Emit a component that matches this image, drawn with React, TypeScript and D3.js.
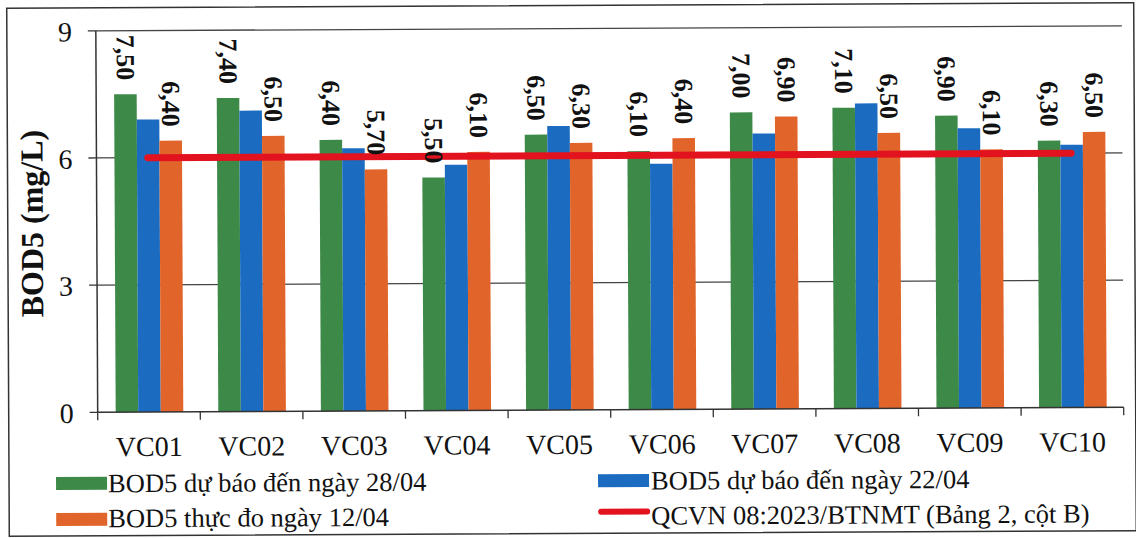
import React from "react";
import * as d3 from "d3";

const categories = ["VC01", "VC02", "VC03", "VC04", "VC05", "VC06", "VC07", "VC08", "VC09", "VC10"];
const forecast2804 = [7.5, 7.4, 6.4, 5.5, 6.5, 6.1, 7.0, 7.1, 6.9, 6.3];
const forecast2204 = [6.9, 7.1, 6.2, 5.8, 6.7, 5.8, 6.5, 7.2, 6.6, 6.2];
const measured1204 = [6.4, 6.5, 5.7, 6.1, 6.3, 6.4, 6.9, 6.5, 6.1, 6.5];
const standardValue = 6;
const yTicks = [0, 3, 6, 9];
const seriesNames = [
  "BOD5 dự báo đến ngày 28/04",
  "BOD5 dự báo đến ngày 22/04",
  "BOD5 thực đo ngày 12/04",
  "QCVN 08:2023/BTNMT (Bảng 2, cột B)",
];

const W = 1136;
const H = 538;
const GREEN = "#3d8948";
const BLUE = "#1b6cc1";
const ORANGE = "#e1652a";
const RED = "#e2121f";
const FONT = "Liberation Serif";

export default function App() {
  const x = d3.scaleBand<string>().domain(categories).range([97, 1123]).paddingInner(0).paddingOuter(0);
  const y = d3.scaleLinear().domain([0, 9]).range([410, 28.5]);
  const bw = x.bandwidth();
  const inner = d3.scaleBand<number>().domain([0, 1, 2]).range([18, bw - 17]).padding(0);
  const series = [
    { values: forecast2804, color: GREEN, label: true },
    { values: forecast2204, color: BLUE, label: false },
    { values: measured1204, color: ORANGE, label: true },
  ];
  const fmt = (v: number) => v.toFixed(2).replace(".", ",");
  const x0 = x.range()[0];
  const x1 = x.range()[1];
  const ts = { fontFamily: FONT } as React.CSSProperties;
  const LF = 26.5;

  return (
    <svg
      width={W}
      height={H}
      style={{ position: "absolute", left: 0, top: 0, background: "#fff", fontFamily: FONT }}
    >
      <rect x={0} y={0} width={W} height={H} fill="#fff" />
      <g transform={`rotate(-0.28 568 270)`}>
        <rect x={8} y={5.5} width={1127} height={528} fill="none" stroke="#333" strokeWidth={1.5} />
        {yTicks.filter((t) => t > 0).map((t) => (
          <line key={t} x1={x0} x2={x1} y1={y(t)} y2={y(t)} stroke="#444" strokeWidth={1.3} />
        ))}
        {series.map((s, si) =>
          s.values.map((v, i) => (
            <rect
              key={`${si}-${i}`}
              x={(x(categories[i]) as number) + (inner(si) as number)}
              y={y(v)}
              width={inner.bandwidth()}
              height={y(0) - y(v)}
              fill={s.color}
            />
          ))
        )}
        <line
          x1={(x(categories[0]) as number) + bw / 2}
          x2={(x(categories[categories.length - 1]) as number) + bw / 2}
          y1={y(standardValue)}
          y2={y(standardValue)}
          stroke={RED}
          strokeWidth={7}
          strokeLinecap="round"
        />
        <line x1={x0} x2={x0} y1={y(9)} y2={y(0)} stroke="#333" strokeWidth={1.5} />
        <line x1={x0} x2={x1} y1={y(0)} y2={y(0)} stroke="#333" strokeWidth={1.5} />
        {yTicks.map((t) => (
          <g key={t}>
            <line x1={x0 - 8} x2={x0} y1={y(t)} y2={y(t)} stroke="#333" strokeWidth={1.3} />
            <text x={73} y={y(t) + 1} fontSize={28} textAnchor="end" dominantBaseline="central" fill="#111" style={ts}>
              {t}
            </text>
          </g>
        ))}
        {[...categories.map((c) => x(c) as number), x1].map((px, i) => (
          <line key={i} x1={px} x2={px} y1={y(0)} y2={y(0) + 8} stroke="#333" strokeWidth={1.3} />
        ))}
        {categories.map((c) => (
          <text key={c} x={(x(c) as number) + bw / 2} y={454} fontSize={28} textAnchor="middle" fill="#111" style={ts}>
            {c}
          </text>
        ))}
        {series.map((s, si) =>
          s.label
            ? s.values.map((v, i) => {
                const cx = (x(categories[i]) as number) + (inner(si) as number) + inner.bandwidth() / 2;
                const cy = y(v) - 14;
                return (
                  <text
                    key={`l${si}-${i}`}
                    transform={`translate(${cx},${cy}) rotate(90)`}
                    fontSize={26}
                    fontWeight="bold"
                    textAnchor="end"
                    dominantBaseline="central"
                    fill="#111"
                    style={ts}
                  >
                    {fmt(v)}
                  </text>
                );
              })
            : null
        )}
        <text
          transform={`translate(32,221) rotate(-90)`}
          fontSize={32}
          fontWeight="bold"
          textAnchor="middle"
          dominantBaseline="central"
          fill="#111"
          style={ts}
        >
          BOD5 (mg/L)
        </text>
        <g>
          <rect x={55} y={474.5} width={51} height={13} fill={GREEN} />
          <text x={107} y={490} fontSize={LF} fill="#111" style={ts}>{seriesNames[0]}</text>
          <rect x={55} y={510.5} width={51} height={13} fill={ORANGE} />
          <text x={107} y={525} fontSize={LF} fill="#111" style={ts}>{seriesNames[2]}</text>
          <rect x={597} y={474.5} width={51} height={13} fill={BLUE} />
          <text x={650} y={490} fontSize={LF} fill="#111" style={ts}>{seriesNames[1]}</text>
          <line x1={600} x2={646} y1={512} y2={512} stroke={RED} strokeWidth={6} strokeLinecap="round" />
          <text x={650} y={525} fontSize={LF} fill="#111" style={ts}>{seriesNames[3]}</text>
        </g>
      </g>
    </svg>
  );
}
